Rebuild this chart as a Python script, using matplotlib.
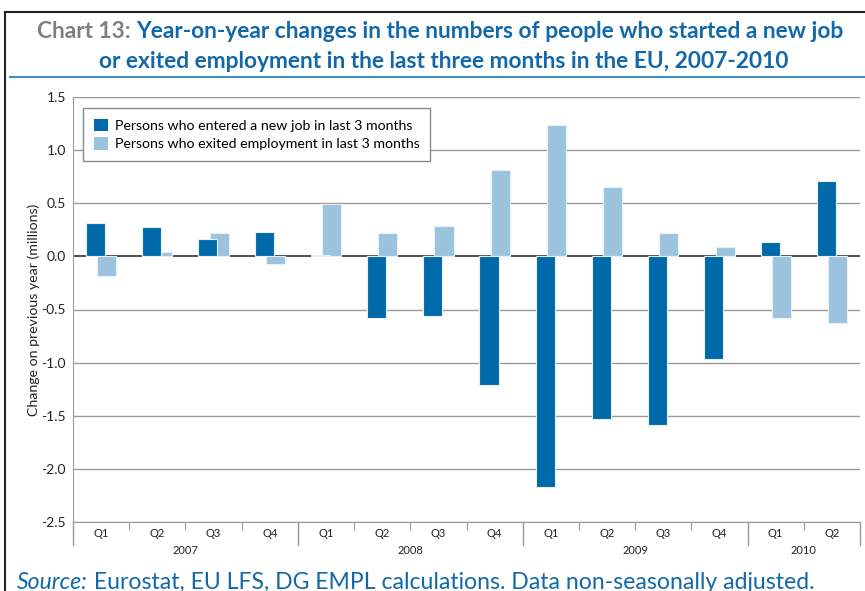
import numpy as np
import matplotlib
matplotlib.use("Agg")
import matplotlib.pyplot as plt
from matplotlib.lines import Line2D
from matplotlib.patches import Patch

# data (millions)
quarters = ["Q1", "Q2", "Q3", "Q4"] * 3 + ["Q1", "Q2"]
years = ["2007", "2008", "2009", "2010"]
year_quarters = [4, 4, 4, 2]
entered = [0.31, 0.28, 0.16, 0.23, 0.01, -0.58, -0.56, -1.21,
           -2.17, -1.53, -1.59, -0.97, 0.14, 0.71]
exited = [-0.18, 0.04, 0.22, -0.07, 0.49, 0.22, 0.29, 0.81,
          1.24, 0.65, 0.22, 0.09, -0.58, -0.63]
yticks = [-2.5, -2.0, -1.5, -1.0, -0.5, 0.0, 0.5, 1.0, 1.5]

DARK = "#0069aa"
LIGHT = "#9cc3dd"
TITLE_BLUE = "#1268a8"
GREY_TXT = "#7f7f7f"
BODY_FONT = "Lato"
TITLE_FONT = "Lato"

W, H = 865, 591
fig = plt.figure(figsize=(W / 100, H / 100), dpi=100)
ax = fig.add_axes([73 / W, 1 - 522 / H, (860 - 73) / W, (522 - 97) / H])

x = np.arange(len(entered))
ax.bar(x + 0.1, exited, width=0.34, color=LIGHT, edgecolor="#e6f0f7",
       linewidth=0.8, zorder=3)
ax.bar(x - 0.1, entered, width=0.34, color=DARK, edgecolor="#e6f0f7",
       linewidth=0.8, zorder=4)

ax.set_xlim(-0.5, len(entered) - 0.5)
ax.set_ylim(-2.5, 1.5)
ax.set_yticks(yticks)
ax.set_yticklabels([f"{v:.1f}" for v in yticks], fontfamily=BODY_FONT, fontsize=10, color="#222222")
for v in yticks:
    ax.axhline(v, color="#333333" if v == 0 else "#9a9a9a", lw=1.2 if v == 0 else 1.0, zorder=1)
ax.tick_params(axis="y", length=0, pad=5)

# category axis: quarter boundaries as ticks, labels in the middle
ax.set_xticks(np.arange(len(entered) + 1) - 0.5)
ax.set_xticklabels([])
ax.tick_params(axis="x", which="major", length=6, color="#9a9a9a", direction="out")
ax.set_xticks(x, minor=True)
ax.set_xticklabels(quarters, minor=True, fontfamily=BODY_FONT, fontsize=8, color="#222222")
ax.tick_params(axis="x", which="minor", length=0, pad=4)

trans = ax.get_xaxis_transform()
start = -0.5
for yr, n in zip(years, year_quarters):
    ax.plot([start, start], [0, -0.055], transform=trans, color="#9a9a9a", lw=1, clip_on=False)
    ax.text(start + n / 2, -0.068, yr, transform=trans, ha="center", va="center",
            fontfamily=BODY_FONT, fontsize=8, color="#222222")
    start += n
ax.plot([start, start], [0, -0.055], transform=trans, color="#9a9a9a", lw=1, clip_on=False)

for s in ["top", "right"]:
    ax.spines[s].set_visible(False)
ax.spines["left"].set_color("#9a9a9a")
ax.spines["bottom"].set_color("#9a9a9a")

ax.set_ylabel("Change on previous year (millions)", fontfamily=BODY_FONT, fontsize=10.2,
              color="#222222")
ax.yaxis.set_label_coords(-0.042, 0.5)

handles = [Patch(facecolor=DARK, edgecolor="none"), Patch(facecolor=LIGHT, edgecolor="none")]
labels = ["Persons who entered a new job in last 3 months",
          "Persons who exited employment in last 3 months"]
leg = ax.legend(handles, labels, loc="upper left", bbox_to_anchor=(0.0127, 0.974),
                borderaxespad=0, prop={"family": BODY_FONT, "size": 10.2}, frameon=True,
                fancybox=False, edgecolor="#8a8a8a", framealpha=1, handlelength=1.0,
                handleheight=1.0, handletextpad=0.5, borderpad=0.75, labelspacing=0.35)
leg.get_frame().set_linewidth(1.0)
leg.set_zorder(5)

# frame and title
fig.add_artist(Line2D([5 / W, 1], [1 - 12 / H] * 2, color="#222222", lw=1.5))
fig.add_artist(Line2D([5 / W] * 2, [0, 1 - 12 / H], color="#222222", lw=1.5))
fig.add_artist(Line2D([10 / W, 1], [1 - 77 / H] * 2, color="#3f8fc6", lw=1.5))

tsize = 16.4
t1 = fig.text(37 / W, 1 - 32 / H, "Chart 13: ", color=GREY_TXT, fontfamily=TITLE_FONT,
              fontweight="bold", fontsize=tsize, va="center")
plt.annotate("Year-on-year changes in the numbers of people who started a new job",
             xy=(1, 0.5), xycoords=t1, va="center", ha="left", color=TITLE_BLUE,
             fontfamily=TITLE_FONT, fontweight="bold", fontsize=tsize)
fig.text(444 / W, 1 - 61 / H, "or exited employment in the last three months in the EU, 2007-2010",
         color=TITLE_BLUE, fontfamily=TITLE_FONT, fontweight="bold",
         fontsize=tsize, ha="center", va="center")

s1 = fig.text(17 / W, 1 - 589 / H, "Source:", color=TITLE_BLUE, fontfamily=BODY_FONT,
              style="italic", fontsize=16.6, va="baseline")
plt.annotate(" Eurostat, EU LFS, DG EMPL calculations. Data non-seasonally adjusted.",
             xy=(1, 0), xycoords=s1, va="bottom", ha="left", color=TITLE_BLUE,
             fontfamily=BODY_FONT, fontsize=16.6, annotation_clip=False)

fig.savefig("out.png", dpi=100)
